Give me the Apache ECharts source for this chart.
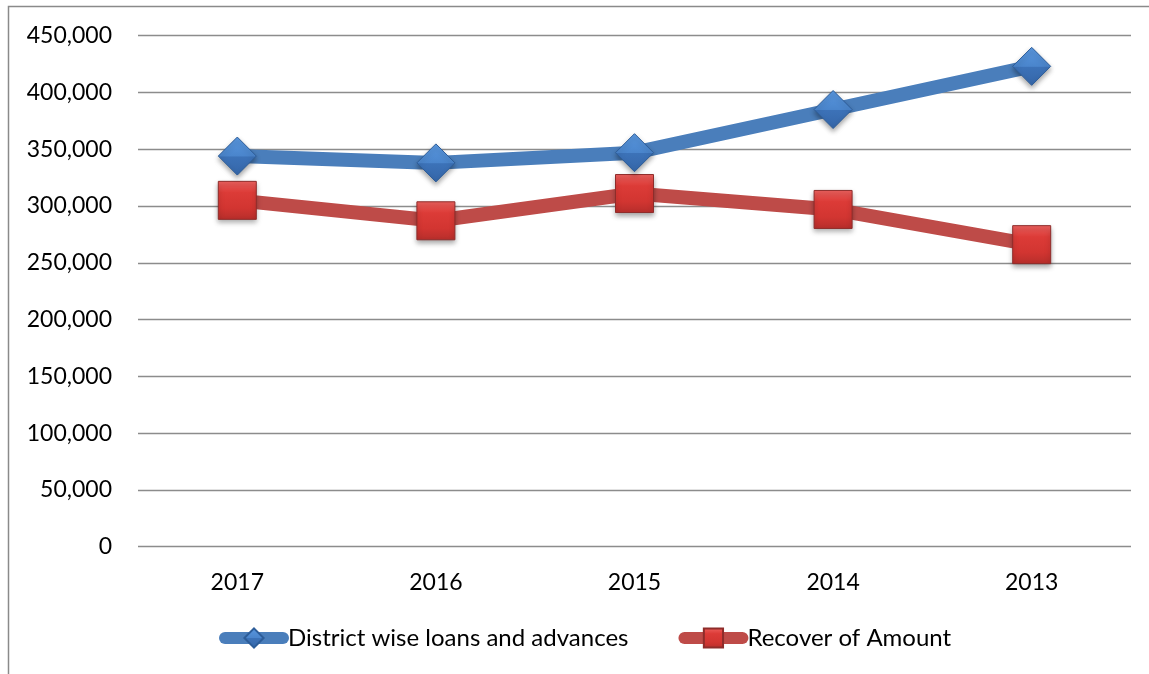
<!DOCTYPE html>
<html>
<head>
<meta charset="utf-8">
<style>
  html, body { margin: 0; padding: 0; background: #ffffff; }
  #chart { width: 1149px; height: 674px; }
</style>
<script src="https://cdn.jsdelivr.net/npm/echarts@6/dist/echarts.min.js"></script>
</head>
<body>
<div id="chart"></div>
<script>
// Years along the category axis
const years = ['2017', '2016', '2015', '2014', '2013'];
// District wise loans and advances
const loans = [344000, 338000, 347000, 385000, 423000];
// Recover of Amount
const recovered = [305000, 287000, 311000, 297000, 266000];
// Value axis ticks
const yMin = 0, yMax = 450000, yStep = 50000;

const FONT = 'Lato, "Open Sans", sans-serif';
const fmt = v => v.toLocaleString('en-US');

const blueFill = new echarts.graphic.LinearGradient(0, 0, 0, 1, [
  { offset: 0, color: '#5a98e0' },
  { offset: 0.5, color: '#4a85cc' },
  { offset: 0.52, color: '#3c72b8' },
  { offset: 1, color: '#3566a8' }
]);
const redFill = new echarts.graphic.LinearGradient(0, 0, 0, 1, [
  { offset: 0, color: '#f06360' },
  { offset: 0.3, color: '#dc3b37' },
  { offset: 0.7, color: '#d23531' },
  { offset: 1, color: '#b62e2b' }
]);

const chart = echarts.init(document.getElementById('chart'), null, { renderer: 'canvas' });
chart.setOption({
  backgroundColor: '#ffffff',
  animation: false,
  graphic: [{
    type: 'rect',
    shape: { x: 8.5, y: 6.5, width: 1300, height: 800 },
    style: { fill: 'none', stroke: '#8a8a8a', lineWidth: 1.5 },
    silent: true, z: -10
  }],
  grid: { left: 138, right: 18, top: 35.7, bottom: 127.3, containLabel: false },
  legend: {
    top: 621,
    left: 214,
    itemGap: 50,
    itemWidth: 58,
    itemHeight: 24,
    lineStyle: { width: 12, cap: 'round' },
    textStyle: { fontFamily: FONT, fontSize: 24, color: '#000' },
    data: ['District wise loans and advances', 'Recover of Amount']
  },
  xAxis: {
    type: 'category',
    data: years,
    boundaryGap: true,
    axisLine: { show: false },
    axisTick: { show: false },
    axisLabel: { color: '#000', fontFamily: FONT, fontSize: 23, margin: 24 }
  },
  yAxis: {
    type: 'value',
    min: yMin, max: yMax, interval: yStep,
    axisLine: { show: false },
    axisTick: { show: false },
    axisLabel: { color: '#000', fontFamily: FONT, fontSize: 23, margin: 26, formatter: fmt },
    splitLine: { lineStyle: { color: '#8c8c8c', width: 1.4 } }
  },
  series: [
    {
      name: 'District wise loans and advances',
      type: 'line',
      data: loans,
      symbol: 'diamond',
      symbolSize: 38,
      lineStyle: { color: '#4a7ebb', width: 14 },
      itemStyle: {
        color: blueFill,
        borderColor: '#2d5d99',
        borderWidth: 1,
        shadowColor: 'rgba(0,0,0,0.35)',
        shadowBlur: 5,
        shadowOffsetY: 3
      },
      z: 3
    },
    {
      name: 'Recover of Amount',
      type: 'line',
      data: recovered,
      symbol: 'rect',
      symbolSize: 38,
      lineStyle: { color: '#be4b48', width: 14 },
      itemStyle: {
        color: redFill,
        borderColor: '#8e2c2a',
        borderWidth: 1,
        shadowColor: 'rgba(0,0,0,0.35)',
        shadowBlur: 5,
        shadowOffsetY: 3
      },
      z: 2
    }
  ]
});
</script>
</body>
</html>
